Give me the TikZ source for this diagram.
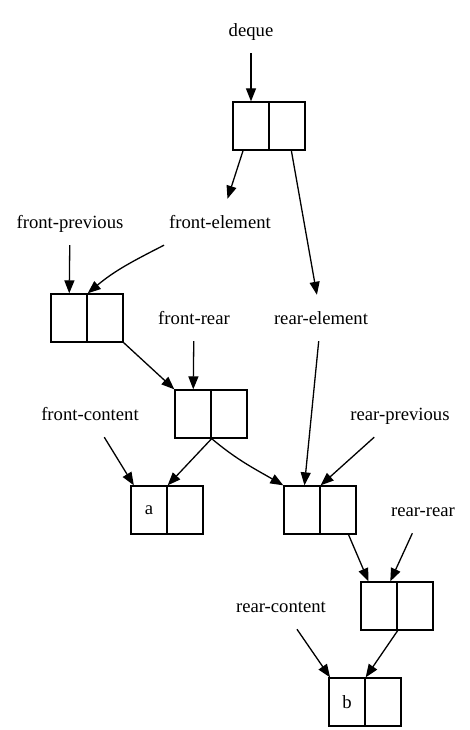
\documentclass[tikz,border=0pt]{standalone}
\usepackage{fontspec}
\setmainfont{Liberation Serif}
\usetikzlibrary{arrows.meta}

\tikzset{
	cell/.style={draw, line width=1.3pt, minimum width=36pt, minimum height=48pt, inner sep=0pt},
	lbl/.style={minimum height=46pt, inner xsep=2pt, inner ysep=0pt, text height=17pt, text depth=4pt},
	link/.style={-{Triangle[length=13pt, width=10pt]}, line width=1.3pt},
}

\begin{document}
\begin{tikzpicture}[x=1pt, y=-1pt, font=\fontsize{18.67}{22}\selectfont]
	\useasboundingbox (0, 0) rectangle (470, 730);

	\foreach \name/\px/\py/\txt in {q1/251/126/{}, q2/69/318/{}, q3/193/414/{}, qa/149/510/a, q4/302/510/{}, q5/379/606/{}, qb/347/702/b} {
		\node [cell] (\name-l) at (\px, \py) {\txt};
		\node [cell] (\name-r) at (\px + 36, \py) {};
	}

	\foreach \name/\px/\py/\txt in {deque/251/30/deque, fp/70/222/front-previous, fe/220/222/front-element, fr/194/318/front-rear, re/321/318/rear-element, fc/90/414/front-content, rp/400/414/rear-previous, rr/423/510/rear-rear, rc/281/606/rear-content} {
		\node [lbl] (\name) at (\px, \py) {\txt};
	}

	\foreach \src/\dst in {deque/q1-l, q1-l/fe, q1-r/re, fp/q2-l, q2-r.south east/q3-l.north west, fr/q3-l, re/q4-l, fc/qa-l, q3-l.south east/qa-l.north east, rp/q4-l.north east, q4-r/q5-l, rr/q5-l, q5-l.south east/qb-l.north east, rc/qb-l} {
		\draw [link] (\src) -- (\dst);
	}

	\draw [link] ([xshift=-56pt]fe.south) to [out=207, in=40] (q2-l.north east);
	\draw [link] (q3-l.south east) to [out=-40, in=150] (q4-l.north west);
\end{tikzpicture}
\end{document}
